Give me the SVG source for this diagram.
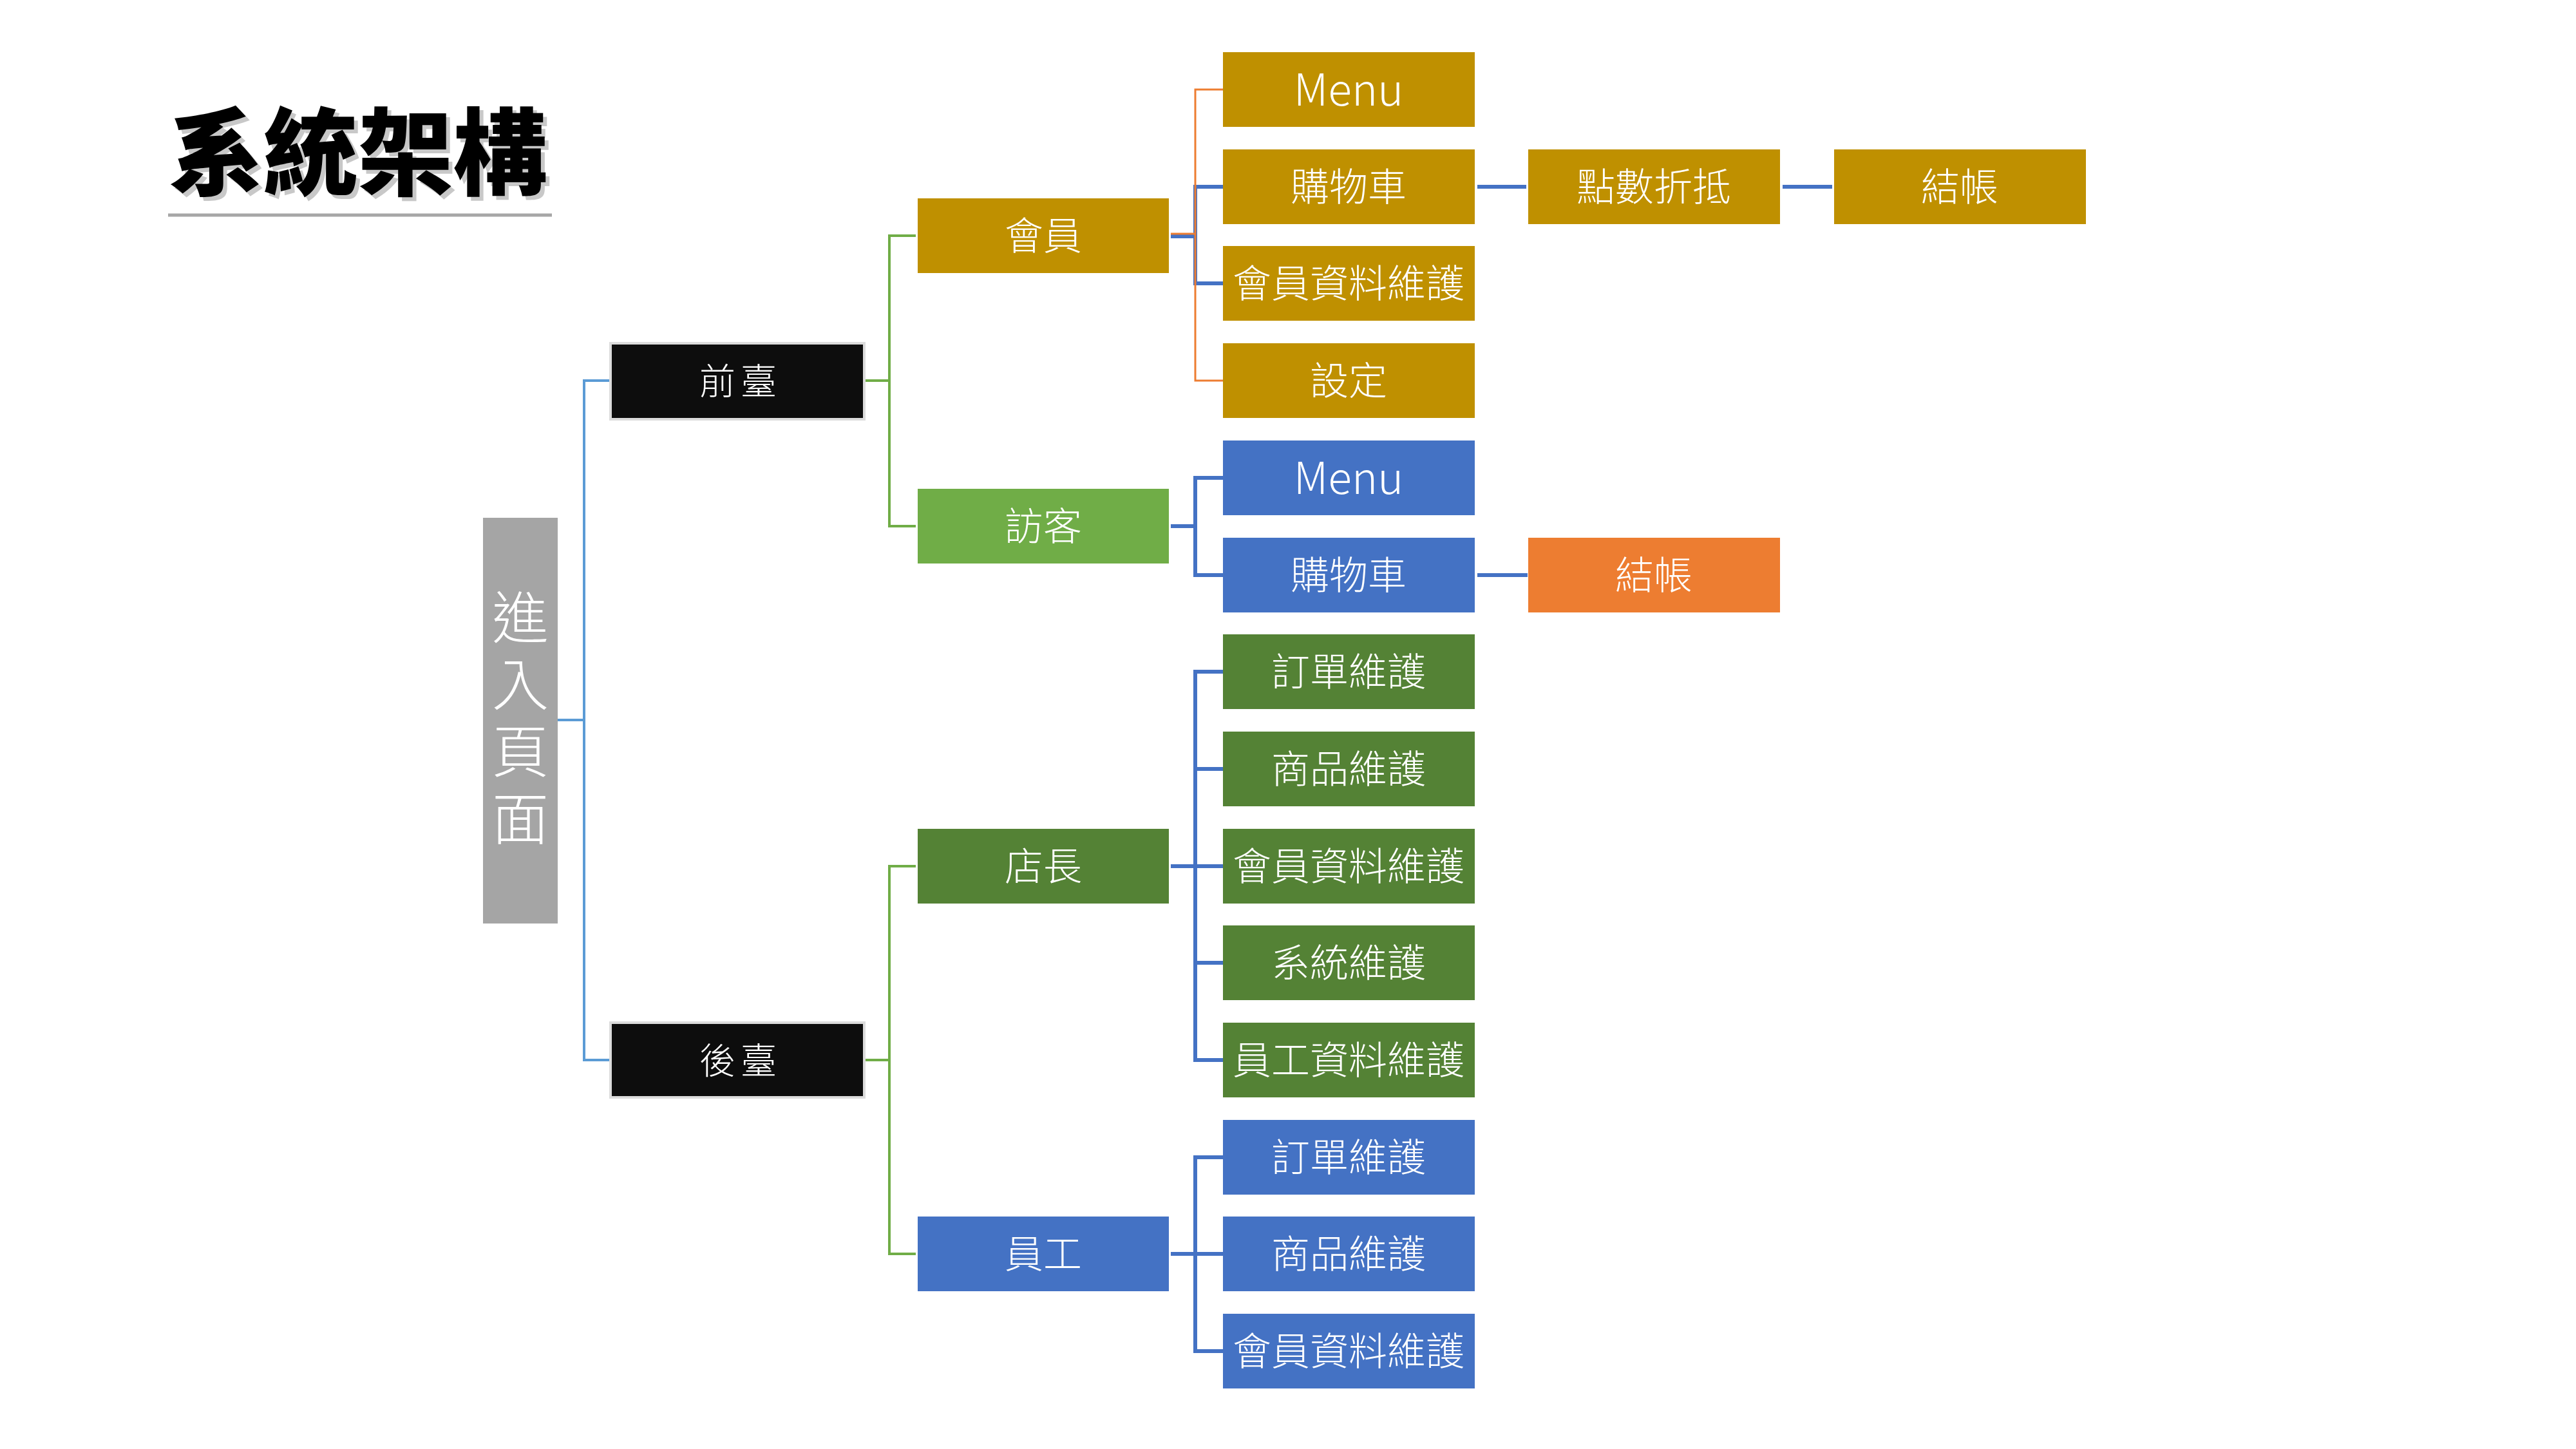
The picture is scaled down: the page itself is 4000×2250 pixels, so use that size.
<svg xmlns="http://www.w3.org/2000/svg" width="4000" height="2250" viewBox="0 0 4000 2250">
<style>
text{font-family:"Noto Sans CJK TC","Noto Sans CJK SC",sans-serif;fill:#ffffff;text-anchor:middle;font-weight:300}
.t{font-size:60px}
.t2{font-size:68px}
.l1{font-size:56px;letter-spacing:8px}
.gold{fill:#bf9000}
.blue{fill:#4472c4}
.dg{fill:#548235}
.lg{fill:#70ad47}
.org{fill:#ed7d31}
.blk{fill:#0d0d0d;stroke:#dcdcdc;stroke-width:4}
.cb{stroke:#4472c4;stroke-width:6;fill:none}
.cr{stroke:#5b9bd5;stroke-width:4;fill:none}
.cg{stroke:#70ad47;stroke-width:4;fill:none}
.co{stroke:#ed7d31;stroke-width:3;fill:none}
</style>
<rect width="4000" height="2250" fill="#ffffff"/>
<g id="title">
<text x="562" y="297" style="font-size:147px;font-weight:900;fill:#c8c8c8">系統架構</text>
<text x="556" y="291" style="font-size:147px;font-weight:900;fill:#000000">系統架構</text>
<line x1="261" y1="334" x2="857" y2="334" stroke="#a6a6a6" stroke-width="5"/>
</g>
<g id="connectors">
<path class="cr" d="M866 1118H907M946 591H907V1646H946"/>
<path class="cg" d="M1344 591H1381M1422 366H1381V817H1422"/>
<path class="cg" d="M1344 1646H1381M1422 1345H1381V1947H1422"/>
<path class="cb" d="M1818 367H1856M1899 290H1856V440H1899"/>
<path class="co" d="M1818 363H1856M1899 139H1856V591H1899"/>
<path class="cb" d="M1818 817H1856M1899 742H1856V893H1899"/>
<path class="cb" d="M1818 1345H1899M1899 1043H1856V1646H1899M1856 1194H1899M1856 1495H1899"/>
<path class="cb" d="M1818 1947H1899M1899 1797H1856V2098H1899"/>
<path class="cb" d="M2294 290H2370M2768 290H2845M2294 893H2372"/>
</g>
<g id="n-root"><rect x="750" y="804" width="116" height="630" fill="#a5a5a5"/>
<text x="808" y="1122" style="font-size:88px;writing-mode:vertical-rl;letter-spacing:16px">進入頁面</text></g>
<g id="n-front"><rect class="blk" x="948" y="533" width="394" height="118"/><text class="l1" x="1150" y="612">前臺</text></g>
<g id="n-back"><rect class="blk" x="948" y="1588" width="394" height="116"/><text class="l1" x="1150" y="1667">後臺</text></g>
<g id="n-member"><rect class="gold" x="1425" y="308" width="390" height="116"/><text class="t" x="1620" y="388">會員</text></g>
<g id="n-visitor"><rect class="lg" x="1425" y="759" width="390" height="116"/><text class="t" x="1620" y="839">訪客</text></g>
<g id="n-manager"><rect class="dg" x="1425" y="1287" width="390" height="116"/><text class="t" x="1620" y="1367">店長</text></g>
<g id="n-staff"><rect class="blue" x="1425" y="1889" width="390" height="116"/><text class="t" x="1620" y="1969">員工</text></g>
<g id="n-m-menu"><rect class="gold" x="1899" y="81" width="391" height="116"/><text class="t2" x="2094" y="164">Menu</text></g>
<g id="n-m-cart"><rect class="gold" x="1899" y="232" width="391" height="116"/><text class="t" x="2094" y="312">購物車</text></g>
<g id="n-m-data"><rect class="gold" x="1899" y="382" width="391" height="116"/><text class="t" x="2094" y="462">會員資料維護</text></g>
<g id="n-m-set"><rect class="gold" x="1899" y="533" width="391" height="116"/><text class="t" x="2094" y="613">設定</text></g>
<g id="n-points"><rect class="gold" x="2373" y="232" width="391" height="116"/><text class="t" x="2568" y="312">點數折抵</text></g>
<g id="n-m-pay"><rect class="gold" x="2848" y="232" width="391" height="116"/><text class="t" x="3043" y="312">結帳</text></g>
<g id="n-v-menu"><rect class="blue" x="1899" y="684" width="391" height="116"/><text class="t2" x="2094" y="767">Menu</text></g>
<g id="n-v-cart"><rect class="blue" x="1899" y="835" width="391" height="116"/><text class="t" x="2094" y="915">購物車</text></g>
<g id="n-v-pay"><rect class="org" x="2373" y="835" width="391" height="116"/><text class="t" x="2568" y="915">結帳</text></g>
<g id="n-s-order"><rect class="dg" x="1899" y="985" width="391" height="116"/><text class="t" x="2094" y="1065">訂單維護</text></g>
<g id="n-s-goods"><rect class="dg" x="1899" y="1136" width="391" height="116"/><text class="t" x="2094" y="1216">商品維護</text></g>
<g id="n-s-member"><rect class="dg" x="1899" y="1287" width="391" height="116"/><text class="t" x="2094" y="1367">會員資料維護</text></g>
<g id="n-s-system"><rect class="dg" x="1899" y="1437" width="391" height="116"/><text class="t" x="2094" y="1517">系統維護</text></g>
<g id="n-s-staff"><rect class="dg" x="1899" y="1588" width="391" height="116"/><text class="t" x="2094" y="1668">員工資料維護</text></g>
<g id="n-e-order"><rect class="blue" x="1899" y="1739" width="391" height="116"/><text class="t" x="2094" y="1819">訂單維護</text></g>
<g id="n-e-goods"><rect class="blue" x="1899" y="1889" width="391" height="116"/><text class="t" x="2094" y="1969">商品維護</text></g>
<g id="n-e-member"><rect class="blue" x="1899" y="2040" width="391" height="116"/><text class="t" x="2094" y="2120">會員資料維護</text></g>
</svg>
